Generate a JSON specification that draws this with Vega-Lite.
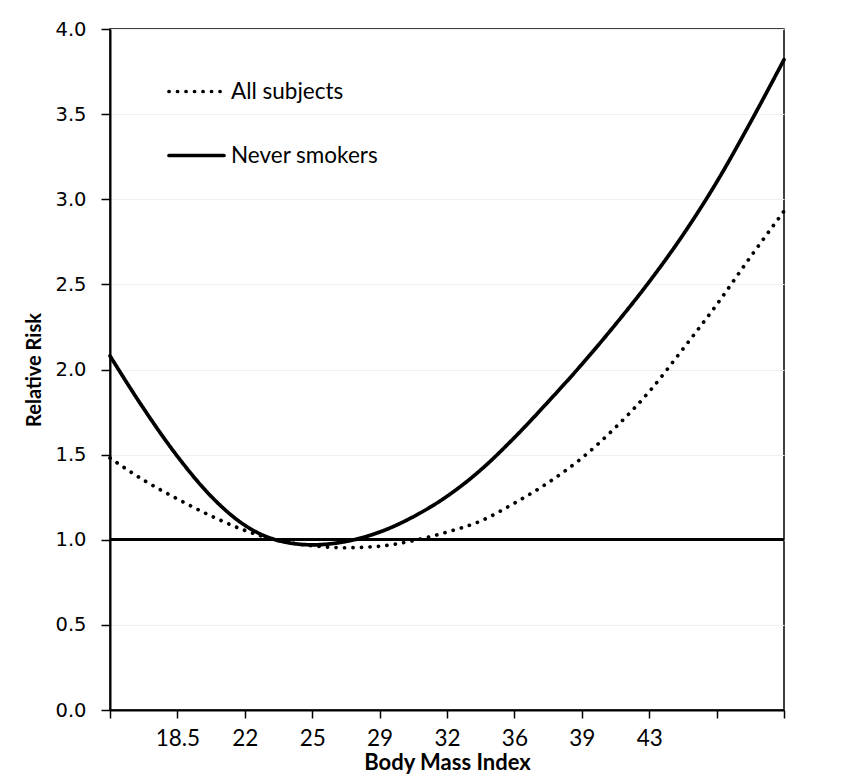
{
  "$schema": "https://vega.github.io/schema/vega-lite/v6.json",
  "width": 674,
  "height": 681,
  "autosize": {"type": "none"},
  "padding": {"left": 110, "top": 29, "right": 64, "bottom": 70},
  "background": "white",
  "config": {
    "view": {"stroke": "#000000", "strokeWidth": 1.5},
    "font": "Lato"
  },
  "data": {
    "values": [
      {"pos": 0, "rr": 2.08, "series": "Never smokers"},
      {"pos": 0.5, "rr": 1.77, "series": "Never smokers"},
      {"pos": 1, "rr": 1.49, "series": "Never smokers"},
      {"pos": 1.5, "rr": 1.255, "series": "Never smokers"},
      {"pos": 2, "rr": 1.085, "series": "Never smokers"},
      {"pos": 2.5, "rr": 0.995, "series": "Never smokers"},
      {"pos": 3, "rr": 0.97, "series": "Never smokers"},
      {"pos": 3.5, "rr": 0.99, "series": "Never smokers"},
      {"pos": 4, "rr": 1.045, "series": "Never smokers"},
      {"pos": 4.5, "rr": 1.135, "series": "Never smokers"},
      {"pos": 5, "rr": 1.255, "series": "Never smokers"},
      {"pos": 5.5, "rr": 1.41, "series": "Never smokers"},
      {"pos": 6, "rr": 1.6, "series": "Never smokers"},
      {"pos": 6.5, "rr": 1.81, "series": "Never smokers"},
      {"pos": 7, "rr": 2.03, "series": "Never smokers"},
      {"pos": 7.5, "rr": 2.265, "series": "Never smokers"},
      {"pos": 8, "rr": 2.515, "series": "Never smokers"},
      {"pos": 8.5, "rr": 2.79, "series": "Never smokers"},
      {"pos": 9, "rr": 3.1, "series": "Never smokers"},
      {"pos": 9.5, "rr": 3.45, "series": "Never smokers"},
      {"pos": 10, "rr": 3.82, "series": "Never smokers"},
      {"pos": 0, "rr": 1.48, "series": "All subjects"},
      {"pos": 0.5, "rr": 1.35, "series": "All subjects"},
      {"pos": 1, "rr": 1.24, "series": "All subjects"},
      {"pos": 1.5, "rr": 1.14, "series": "All subjects"},
      {"pos": 2, "rr": 1.055, "series": "All subjects"},
      {"pos": 2.5, "rr": 0.995, "series": "All subjects"},
      {"pos": 3, "rr": 0.965, "series": "All subjects"},
      {"pos": 3.5, "rr": 0.953, "series": "All subjects"},
      {"pos": 4, "rr": 0.962, "series": "All subjects"},
      {"pos": 4.5, "rr": 0.995, "series": "All subjects"},
      {"pos": 5, "rr": 1.045, "series": "All subjects"},
      {"pos": 5.5, "rr": 1.11, "series": "All subjects"},
      {"pos": 6, "rr": 1.215, "series": "All subjects"},
      {"pos": 6.5, "rr": 1.335, "series": "All subjects"},
      {"pos": 7, "rr": 1.48, "series": "All subjects"},
      {"pos": 7.5, "rr": 1.66, "series": "All subjects"},
      {"pos": 8, "rr": 1.87, "series": "All subjects"},
      {"pos": 8.5, "rr": 2.12, "series": "All subjects"},
      {"pos": 9, "rr": 2.38, "series": "All subjects"},
      {"pos": 9.5, "rr": 2.66, "series": "All subjects"},
      {"pos": 10, "rr": 2.93, "series": "All subjects"}
    ]
  },
  "layer": [
    {
      "mark": {"type": "rule", "color": "#000000", "strokeWidth": 2},
      "encoding": {"y": {"datum": 1, "type": "quantitative"}}
    },
    {
      "mark": {"type": "line", "color": "#000000", "strokeWidth": 3.7, "strokeCap": "round", "interpolate": "monotone"},
      "encoding": {
        "x": {
          "field": "pos",
          "type": "quantitative",
          "scale": {"domain": [0, 10], "nice": false, "zero": false},
          "axis": {
            "title": "Body Mass Index",
            "values": [0, 1, 2, 3, 4, 5, 6, 7, 8, 9, 10],
            "labelExpr": "['', '18.5', '22', '25', '29', '32', '36', '39', '43', '', ''][datum.value]",
            "grid": false,
            "domainColor": "#000000",
            "domainWidth": 2,
            "tickColor": "#000000",
            "tickWidth": 1.5,
            "tickSize": 8,
            "labelFont": "Lato",
            "labelFontSize": 22.5,
            "labelColor": "#000000",
            "labelPadding": 9,
            "labelLineHeight": 22,
            "titleFont": "Lato",
            "titleFontSize": 22,
            "titleFontWeight": "bold",
            "titleColor": "#000000",
            "titlePadding": 3
          }
        },
        "y": {
          "field": "rr",
          "type": "quantitative",
          "scale": {"domain": [0, 4], "nice": false},
          "axis": {
            "title": "Relative Risk",
            "values": [0, 0.5, 1, 1.5, 2, 2.5, 3, 3.5, 4],
            "format": ".1f",
            "grid": true,
            "gridColor": "#f0f0f0",
            "gridWidth": 1,
            "domainColor": "#000000",
            "domainWidth": 2,
            "tickColor": "#000000",
            "tickWidth": 1.5,
            "tickSize": 9,
            "labelFont": "DejaVu Sans",
            "labelFontSize": 19.5,
            "labelColor": "#000000",
            "labelPadding": 15,
            "titleFont": "Lato",
            "titleFontSize": 20,
            "titleFontWeight": "bold",
            "titleColor": "#000000",
            "titlePadding": 10
          }
        },
        "strokeDash": {
          "field": "series",
          "type": "nominal",
          "scale": {"domain": ["All subjects", "Never smokers"], "range": [[0.1, 8.4], [1, 0]]},
          "legend": {
            "title": null,
            "orient": "none",
            "legendX": 57,
            "legendY": 33,
            "direction": "vertical",
            "symbolType": "stroke",
            "symbolSize": 3025,
            "symbolStrokeWidth": 3.7,
            "symbolStrokeColor": "#000000",
            "labelFont": "Lato",
            "labelFontSize": 22.5,
            "labelColor": "#000000",
            "labelOffset": 5,
            "rowPadding": 23,
            "padding": 0,
            "encode": {"symbols": {"update": {"strokeCap": {"value": "round"}}}}
          }
        }
      }
    }
  ]
}
